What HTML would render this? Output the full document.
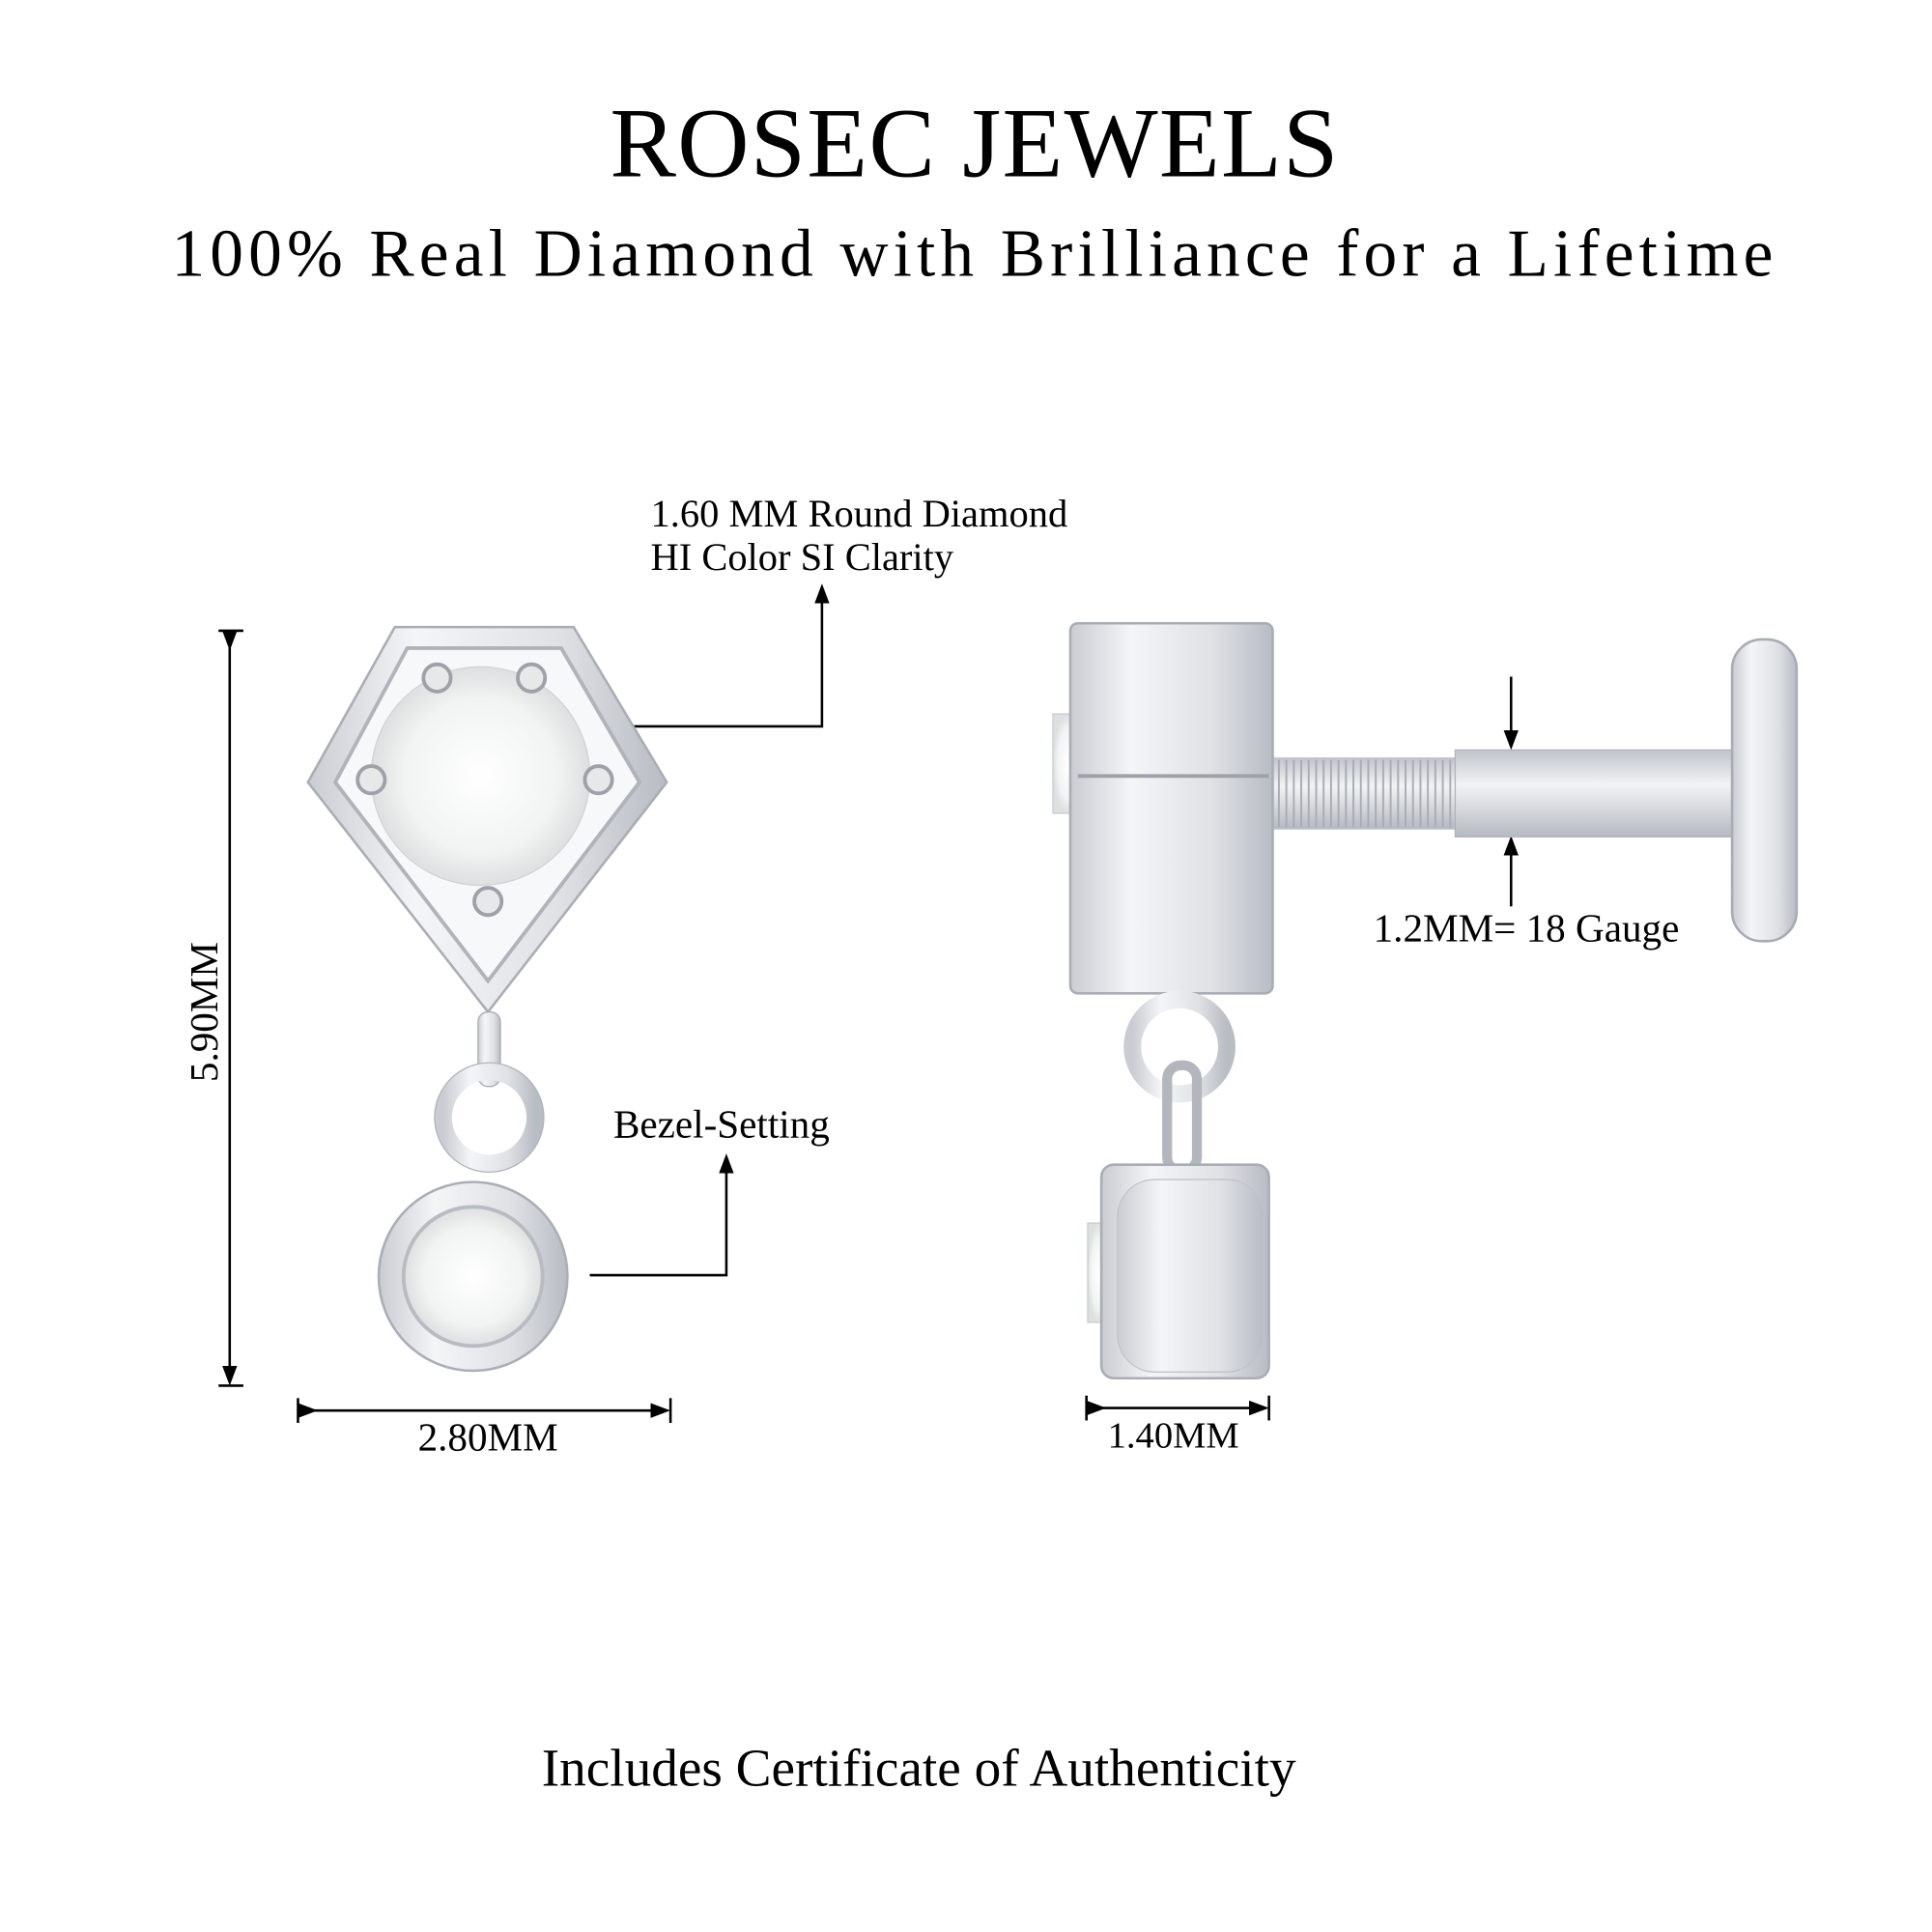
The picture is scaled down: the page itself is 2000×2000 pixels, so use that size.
<!DOCTYPE html>
<html><head><style>html,body{margin:0;padding:0;background:#fff}svg{display:block}</style></head>
<body>
<svg width="2000" height="2000" viewBox="0 0 1556 1556" xmlns="http://www.w3.org/2000/svg" font-family="'Liberation Serif',serif">
<defs>
<linearGradient id="m" x1="0" x2="1"><stop offset="0" stop-color="#c9ccd2"/><stop offset=".3" stop-color="#f4f5f7"/><stop offset=".7" stop-color="#dfe1e5"/><stop offset="1" stop-color="#b8bcc3"/></linearGradient>
<linearGradient id="mv" x1="0" y1="0" x2="0" y2="1"><stop offset="0" stop-color="#bfc3ca"/><stop offset=".4" stop-color="#f2f3f5"/><stop offset="1" stop-color="#b5b9c0"/></linearGradient>
<radialGradient id="g"><stop offset="0" stop-color="#fff"/><stop offset=".7" stop-color="#f2f3f3"/><stop offset="1" stop-color="#dde0e0"/></radialGradient>
<marker id="a" markerWidth="8" markerHeight="8" refX="4" refY="4" orient="auto"><path d="M0,1 L8,4 L0,7 z" fill="#000"/></marker>
</defs>
<text x="785" y="142" font-size="80" text-anchor="middle" letter-spacing="1">ROSEC JEWELS</text>
<text x="785" y="222" font-size="54" text-anchor="middle" letter-spacing="4">100% Real Diamond with Brilliance for a Lifetime</text>
<text x="524" y="424" font-size="31.5">1.60 MM Round Diamond</text>
<text x="524" y="459" font-size="31.5">HI Color SI Clarity</text>
<text x="494" y="916" font-size="32">Bezel-Setting</text>
<text x="393" y="1168" font-size="32" text-anchor="middle">2.80MM</text>
<text x="945" y="1166" font-size="30" text-anchor="middle">1.40MM</text>
<text x="1106" y="758" font-size="32">1.2MM= 18 Gauge</text>
<text x="740" y="1438" font-size="43" text-anchor="middle">Includes Certificate of Authenticity</text>
<text transform="translate(175,815) rotate(-90)" font-size="32" text-anchor="middle">5.90MM</text>
<g stroke="#000" stroke-width="2" fill="none">
<path d="M460,585 H662 V478" marker-end="url(#a)"/>
<path d="M475,1027 H585 V937" marker-end="url(#a)"/>
<line x1="185" y1="516" x2="185" y2="1108" marker-start="url(#a)" marker-end="url(#a)"/>
<line x1="176" y1="508" x2="196" y2="508"/><line x1="176" y1="1116" x2="196" y2="1116"/>
<line x1="248" y1="1136" x2="532" y2="1136" marker-start="url(#a)" marker-end="url(#a)"/>
<line x1="240" y1="1126" x2="240" y2="1146"/><line x1="540" y1="1126" x2="540" y2="1146"/>
<line x1="883" y1="1134" x2="1014" y2="1134" marker-start="url(#a)" marker-end="url(#a)"/>
<line x1="875" y1="1124" x2="875" y2="1144"/><line x1="1022" y1="1124" x2="1022" y2="1144"/>
<line x1="1217" y1="545" x2="1217" y2="596" marker-end="url(#a)"/>
<line x1="1217" y1="730" x2="1217" y2="681" marker-end="url(#a)"/>
</g>
<path d="M318,505 H462 L537,630 L393,815 L248,630 Z" fill="url(#m)" stroke="#a9adb4" stroke-width="2"/>
<path d="M328,522 H452 L515,630 L393,790 L270,630 Z" fill="#f7f8f9" stroke="#b0b4ba" stroke-width="3"/>
<circle cx="387" cy="625" r="88" fill="url(#g)" stroke="#d0d4d6"/>
<g fill="#e6e8ea" stroke="#9ea2a8" stroke-width="3">
<circle cx="352" cy="546" r="11"/><circle cx="428" cy="546" r="11"/><circle cx="299" cy="628" r="11"/><circle cx="482" cy="628" r="11"/><circle cx="393" cy="726" r="11"/>
</g>
<rect x="385" y="815" width="18" height="60" rx="8" fill="url(#m)" stroke="#aaa"/>
<circle cx="394" cy="900" r="37" fill="none" stroke="url(#m)" stroke-width="14"/>
<circle cx="394" cy="900" r="44" fill="none" stroke="#b0b4ba" stroke-width="1"/>
<circle cx="381" cy="1028" r="76" fill="url(#m)" stroke="#aaaeb5" stroke-width="2"/>
<circle cx="381" cy="1028" r="56" fill="url(#g)" stroke="#b8bcc2" stroke-width="3"/>
<rect x="1025" y="610" width="150" height="58" fill="url(#mv)"/>
<g stroke="#a8acb3" stroke-width="1.5"><path d="M1030,612 v54 M1036,612 v54 M1042,612 v54 M1048,612 v54 M1054,612 v54 M1060,612 v54 M1066,612 v54 M1072,612 v54 M1078,612 v54 M1084,612 v54 M1090,612 v54 M1096,612 v54 M1102,612 v54 M1108,612 v54 M1114,612 v54 M1120,612 v54 M1126,612 v54 M1132,612 v54 M1138,612 v54 M1144,612 v54 M1150,612 v54 M1156,612 v54 M1162,612 v54 M1168,612 v54"/></g>
<rect x="1172" y="604" width="233" height="70" fill="url(#mv)" stroke="#b0b4ba"/>
<rect x="1395" y="515" width="52" height="243" rx="24" fill="url(#m)" stroke="#a7abb2" stroke-width="2"/>
<rect x="848" y="575" width="25" height="80" fill="url(#g)" stroke="#c8ccd0"/>
<rect x="862" y="502" width="163" height="298" rx="6" fill="url(#m)" stroke="#a9adb4" stroke-width="2"/>
<line x1="868" y1="625" x2="1022" y2="625" stroke="#9ea2a8" stroke-width="3"/>
<circle cx="950" cy="843" r="38" fill="none" stroke="url(#m)" stroke-width="14"/>
<rect x="940" y="858" width="24" height="85" rx="11" fill="none" stroke="#b3b7bd" stroke-width="8"/>
<rect x="876" y="985" width="18" height="80" fill="url(#g)" stroke="#c8ccd0"/>
<rect x="887" y="938" width="135" height="172" rx="10" fill="url(#m)" stroke="#a9adb4" stroke-width="2"/>
<rect x="900" y="950" width="118" height="155" rx="30" fill="url(#m)" stroke="#c0c4ca"/>
</svg>
</body></html>
